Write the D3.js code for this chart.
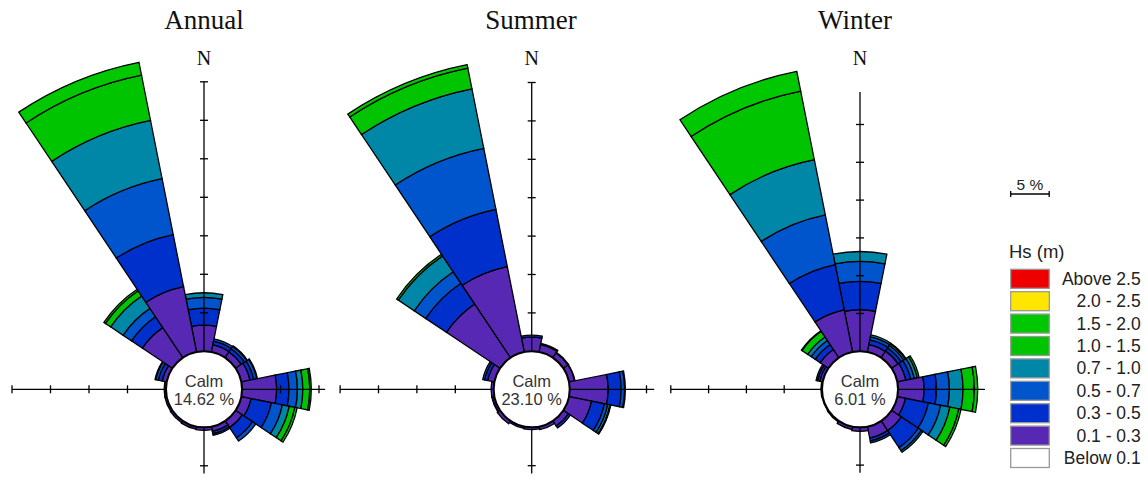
<!DOCTYPE html>
<html>
<head>
<meta charset="utf-8">
<script src="https://cdn.jsdelivr.net/npm/d3@7"></script>
<style>
  html, body { margin: 0; padding: 0; background: #fff; }
  svg { display: block; }
</style>
</head>
<body>
<svg id="chart" width="1148" height="477"></svg>
<script>
// ---------------- DATA ----------------
const directions = ["N","NNE","NE","ENE","E","ESE","SE","SSE","S","SSW","SW","WSW","W","WNW","NW","NNW"];
// Hs bins, inner -> outer
const hsBins = ["0.1 - 0.3","0.3 - 0.5","0.5 - 0.7","0.7 - 1.0","1.0 - 1.5","1.5 - 2.0","2.0 - 2.5","Above 2.5"];
const legendLabels = ["Above 2.5","2.0 - 2.5","1.5 - 2.0","1.0 - 1.5","0.7 - 1.0","0.5 - 0.7","0.3 - 0.5","0.1 - 0.3","Below 0.1"];
const titles = ["Annual","Summer","Winter"];
const calmValues = ["14.62","23.10","6.01"];
const tickStep = 5; // %
const scaleLabel = "5 %";

// frequency (%) per direction, one value per Hs bin (0.1-0.3 ... Above 2.5)
const annualFreq = [
  [3.4, 2.2, 1.4, 0.6, 0, 0, 0, 0],     // N
  [0.95, 0.5, 0.3, 0, 0, 0, 0, 0],      // NNE
  [0.9, 0.5, 0.35, 0.1, 0, 0, 0, 0],    // NE
  [1.15, 0.5, 0.4, 0.1, 0, 0, 0, 0],    // ENE
  [4.5, 1.6, 1.1, 0.7, 0.9, 0.2, 0, 0], // E
  [1.3, 2.7, 1.45, 0.9, 0.75, 0.3, 0, 0], // ESE
  [1.05, 1.6, 0.5, 0, 0, 0, 0, 0],      // SE
  [0.65, 0.3, 0.2, 0, 0, 0, 0, 0],      // SSE
  [0.4, 0, 0, 0, 0, 0, 0, 0],           // S
  [0.35, 0, 0, 0, 0, 0, 0, 0],          // SSW
  [0.3, 0, 0, 0, 0, 0, 0, 0],           // SW
  [0.25, 0, 0, 0, 0, 0, 0, 0],          // WSW
  [0.25, 0, 0, 0, 0, 0, 0, 0],          // W
  [0.6, 0.5, 0.35, 0.1, 0, 0, 0, 0],    // WNW
  [4.7, 1.7, 1.3, 1.95, 0.8, 0.25, 0, 0], // NW
  [8.66, 6.9, 7.4, 7.7, 6.0, 1.7, 0, 0]   // NNW
];
const summerFreq = [
  [1.85, 0.25, 0, 0, 0, 0, 0, 0],       // N
  [1.0, 0.15, 0, 0, 0, 0, 0, 0],        // NNE
  [0.75, 0.1, 0, 0, 0, 0, 0, 0],        // NE
  [0.75, 0.05, 0, 0, 0, 0, 0, 0],       // ENE
  [5.0, 1.7, 0.45, 0.1, 0, 0, 0, 0],    // E
  [3.0, 1.7, 0.45, 0.3, 0.1, 0, 0, 0],  // ESE
  [0.8, 0.3, 0, 0, 0, 0, 0, 0],         // SE
  [0.4, 0, 0, 0, 0, 0, 0, 0],           // SSE
  [0.3, 0, 0, 0, 0, 0, 0, 0],           // S
  [0.25, 0, 0, 0, 0, 0, 0, 0],          // SSW
  [0.45, 0, 0, 0, 0, 0, 0, 0],          // SW
  [0.3, 0.05, 0, 0, 0, 0, 0, 0],        // WSW
  [0.35, 0, 0, 0, 0, 0, 0, 0],          // W
  [0.9, 0.4, 0.25, 0, 0, 0, 0, 0],      // WNW
  [8.4, 3.25, 1.8, 2.5, 0.26, 0, 0, 0], // NW
  [11.35, 7.6, 8.1, 7.9, 2.75, 0.45, 0, 0] // NNW
];
const winterFreq = [
  [5.5, 3.75, 2.65, 1.3, 0, 0, 0, 0],   // N
  [1.0, 0.65, 0.4, 0.25, 0, 0, 0, 0],   // NNE
  [1.05, 0.5, 0.4, 0.25, 0.1, 0, 0, 0], // NE
  [1.15, 0.65, 0.5, 0.4, 0.25, 0, 0, 0],// ENE
  [3.45, 1.65, 1.7, 1.8, 1.5, 0.45, 0, 0], // E
  [1.1, 3.1, 1.65, 1.25, 1.2, 0.3, 0, 0],  // ESE
  [1.55, 2.7, 0.5, 0.25, 0, 0, 0, 0],   // SE
  [1.55, 0.4, 0.25, 0, 0, 0, 0, 0],     // SSE
  [0.55, 0, 0, 0, 0, 0, 0, 0],          // S
  [0.4, 0, 0, 0, 0, 0, 0, 0],           // SSW
  [0.15, 0, 0, 0, 0, 0, 0, 0],          // SW
  [0.1, 0, 0, 0, 0, 0, 0, 0],           // WSW
  [0.15, 0, 0, 0, 0, 0, 0, 0],          // W
  [0.4, 0.3, 0.2, 0, 0, 0, 0, 0],       // WNW
  [1.3, 0.8, 0.65, 0.55, 0.9, 0.1, 0, 0], // NW
  [5.7, 6.1, 6.7, 7.45, 9.25, 2.65, 0, 0] // NNW
];
// axis reach (%) in N, E, S, W directions
const annualAxis = [35, 10.8, 6, 20];
const summerAxis = [35, 11.0, 6, 20];
const winterAxis = [34.3, 11.5, 6, 20];

// ---------------- STYLE / LAYOUT ----------------
const binColors = ["#5628B4","#0030CC","#0055CC","#0087A8","#00C400","#00C800","#FFE600","#EE0000"];
const legendColors = ["#EE0000","#FFE600","#00C800","#00C400","#0087A8","#0055CC","#0030CC","#5628B4","#FFFFFF"];
const roses = [
  { title: titles[0], calm: calmValues[0], freq: annualFreq, axis: annualAxis, cx: 204, cy: 389.3, k: 7.7, tx: 204 },
  { title: titles[1], calm: calmValues[1], freq: summerFreq, axis: summerAxis, cx: 531.7, cy: 389.3, k: 7.68, tx: 531 },
  { title: titles[2], calm: calmValues[2], freq: winterFreq, axis: winterAxis, cx: 860, cy: 389.3, k: 7.56, tx: 855 }
];
const calmR = 38;
const sans = "'Liberation Sans', Arial, sans-serif";
const serif = "'Liberation Serif', 'Times New Roman', serif";

const svg = d3.select("#chart");
svg.append("rect").attr("width", 1148).attr("height", 477).attr("fill", "#fff");

const angle = d3.scaleBand().domain(directions).range([-Math.PI * 11.25 / 180, 2 * Math.PI - Math.PI * 11.25 / 180]).padding(0);
const arc = d3.arc();

roses.forEach(rose => {
  const r = d3.scaleLinear().domain([0, tickStep]).range([calmR, calmR + tickStep * rose.k]);
  const g = svg.append("g").attr("transform", `translate(${rose.cx},${rose.cy})`);

  // bars
  const segs = [];
  rose.freq.forEach((vals, di) => {
    let cum = 0;
    vals.forEach((v, bi) => {
      if (v > 0) {
        segs.push({ dir: directions[di], bin: bi, v0: cum, v1: cum + v });
      }
      cum += v;
    });
  });
  g.append("g").selectAll("path").data(segs).join("path")
    .attr("d", d => arc({
      innerRadius: r(d.v0), outerRadius: r(d.v1),
      startAngle: angle(d.dir), endAngle: angle(d.dir) + angle.bandwidth()
    }))
    .attr("fill", d => binColors[d.bin])
    .attr("stroke", "#000")
    .attr("stroke-width", 1.3)
    .attr("stroke-linejoin", "miter");

  // axes (N, E, S, W)
  const dirsXY = [[0, -1], [1, 0], [0, 1], [-1, 0]];
  const ax = g.append("g");
  rose.axis.forEach((len, i) => {
    const [ux, uy] = dirsXY[i];
    const end = r(len);
    ax.append("line").attr("x1", 0).attr("y1", 0).attr("x2", ux * end).attr("y2", uy * end)
      .attr("stroke", "#000").attr("stroke-width", 1.3);
    const ticks = d3.range(tickStep, len + 0.01, tickStep);
    ax.selectAll(null).data(ticks).join("line")
      .attr("x1", t => ux * r(t) - uy * 4)
      .attr("y1", t => uy * r(t) - ux * 4)
      .attr("x2", t => ux * r(t) + uy * 4)
      .attr("y2", t => uy * r(t) + ux * 4)
      .attr("stroke", "#000").attr("stroke-width", 1.3);
  });

  // calm circle
  g.append("circle").attr("r", calmR).attr("fill", "#fff").attr("stroke", "#000").attr("stroke-width", 2);
  g.append("text").attr("x", 0).attr("y", -2.5).attr("text-anchor", "middle")
    .attr("font-family", sans).attr("font-size", 16.5).attr("fill", "#333").text("Calm");
  g.append("text").attr("x", 0).attr("y", 15.5).attr("text-anchor", "middle")
    .attr("font-family", sans).attr("font-size", 16.5).attr("fill", "#333").text(rose.calm + " %");

  // N label
  svg.append("text").attr("x", rose.cx).attr("y", 65).attr("text-anchor", "middle")
    .attr("font-family", serif).attr("font-size", 20).attr("fill", "#111").text("N");
  // title
  svg.append("text").attr("x", rose.tx).attr("y", 29).attr("text-anchor", "middle")
    .attr("font-family", serif).attr("font-size", 27).attr("fill", "#111").text(rose.title);
});

// scale bar
const sb = svg.append("g");
const sbLen = tickStep * roses[0].k;
const sbX = 1010.7, sbY = 194;
sb.append("line").attr("x1", sbX).attr("x2", sbX + sbLen).attr("y1", sbY).attr("y2", sbY).attr("stroke", "#000").attr("stroke-width", 1.3);
sb.append("line").attr("x1", sbX).attr("x2", sbX).attr("y1", sbY - 3).attr("y2", sbY + 3).attr("stroke", "#000").attr("stroke-width", 1.3);
sb.append("line").attr("x1", sbX + sbLen).attr("x2", sbX + sbLen).attr("y1", sbY - 3).attr("y2", sbY + 3).attr("stroke", "#000").attr("stroke-width", 1.3);
sb.append("text").attr("x", sbX + sbLen / 2).attr("y", sbY - 4).attr("text-anchor", "middle")
  .attr("font-family", sans).attr("font-size", 15.5).attr("fill", "#222").text(scaleLabel);

// legend
const lg = svg.append("g");
lg.append("text").attr("x", 1009).attr("y", 258).attr("font-family", sans).attr("font-size", 18.5).attr("fill", "#222").text("Hs (m)");
const items = lg.selectAll("g.item").data(legendLabels).join("g").attr("class", "item")
  .attr("transform", (d, i) => `translate(1010.7, ${269.3 + i * 22.4})`);
items.append("rect").attr("width", 38.6).attr("height", 19)
  .attr("fill", (d, i) => legendColors[i]).attr("stroke", "#999").attr("stroke-width", 1.3);
items.append("text").attr("x", 130).attr("y", 15.5).attr("text-anchor", "end")
  .attr("font-family", sans).attr("font-size", 17.5).attr("fill", "#222").text(d => d);
</script>
</body>
</html>
